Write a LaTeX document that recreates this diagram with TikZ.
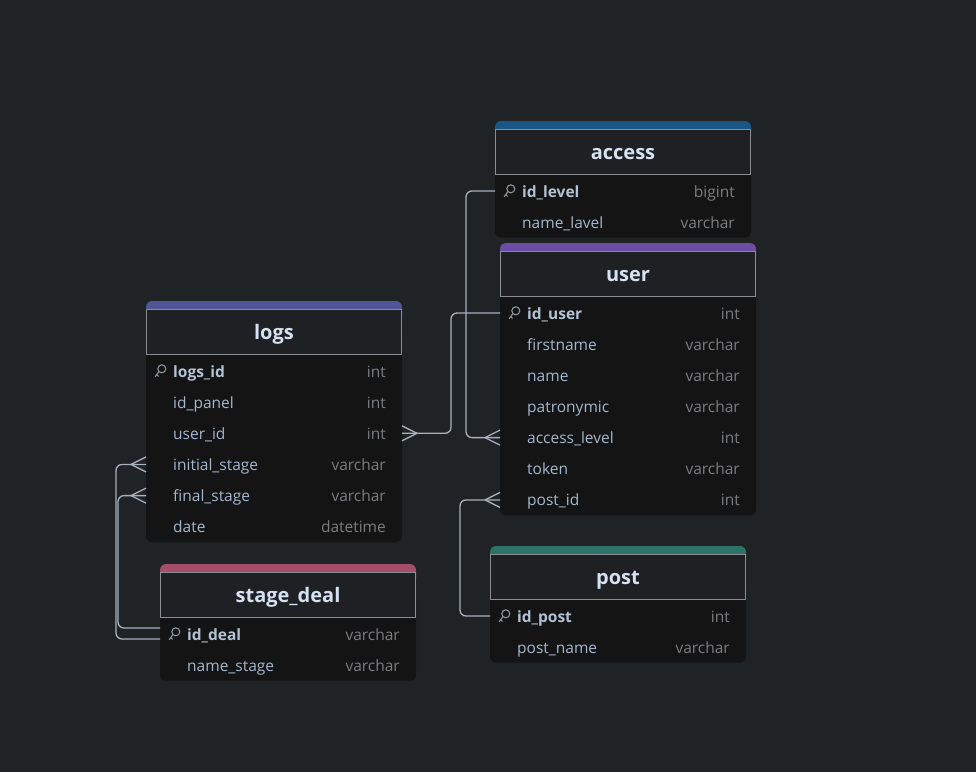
\documentclass[tikz,border=0pt]{standalone}
\usepackage{fontspec}
\setmainfont{Open Sans}
\usetikzlibrary{calc}
\definecolor{bgc}{HTML}{202326}
\definecolor{bodyc}{HTML}{141414}
\definecolor{hdrc}{HTML}{1E2023}
\definecolor{bordc}{HTML}{8A8D91}
\definecolor{titlec}{HTML}{D6E2F2}
\definecolor{fieldc}{HTML}{A3B7CF}
\definecolor{pkc}{HTML}{B3C2D5}
\definecolor{typec}{HTML}{7A7D81}
\definecolor{linec}{HTML}{A7B1BE}
\definecolor{keyc}{HTML}{8E949B}
\definecolor{cAccess}{HTML}{1A5683}
\definecolor{cUser}{HTML}{6D4CA6}
\definecolor{cLogs}{HTML}{4F5596}
\definecolor{cStage}{HTML}{A34D68}
\definecolor{cPost}{HTML}{2E7367}
\tikzset{
  titletext/.style={text=titlec, font=\fontsize{20}{24}\selectfont\bfseries, inner sep=0pt},
  fieldtext/.style={text=fieldc, font=\fontsize{15.5}{18}\selectfont, inner sep=0pt},
  pktext/.style={text=pkc, font=\fontsize{15.5}{18}\selectfont\bfseries, inner sep=0pt},
  typetext/.style={text=typec, font=\fontsize{15.5}{18}\selectfont, inner sep=0pt},
  rowbox/.style={minimum width=256pt, minimum height=31pt, inner sep=0pt, outer sep=0pt},
  conn/.style={draw=linec, line width=1.3pt, rounded corners=6pt},
  crow/.style={draw=linec, line width=1.3pt},
}
\newcommand\ertable[7]{%
  \pgfmathsetmacro\tbot{#3+70+(#4-1)*31.15+15.5}
  \fill[bodyc, rounded corners=6pt] (#2,#3+30) rectangle (#2+256,\tbot);
  \fill[#5, rounded corners=6pt] (#2,#3) rectangle (#2+256,#3+20);
  \filldraw[fill=hdrc, draw=bordc, line width=1pt] (#2+0.5,#3+8) rectangle (#2+255.5,#3+53);
  \node[titletext, anchor=base] (#1) at (#2+128,#3+38) {#6};
  \foreach \nm/\ty/\pk [count=\i] in {#7} {
    \pgfmathsetmacro\ry{#3+70+(\i-1)*31.15}
    \node[rowbox] (#1-\i) at (#2+128,\ry) {};
    \ifnum\pk=1
      \draw[keyc, line width=1.1pt] (#2+15.8,\ry-2.2) circle (4pt);
      \draw[keyc, line width=1.1pt, line cap=round] (#2+12.9,\ry+0.7) -- (#2+9.2,\ry+5.6) (#2+10.7,\ry+3.6) -- (#2+12.4,\ry+5.2);
      \node[pktext, anchor=base west] at (#2+27,\ry+6) {\nm};
    \else
      \node[fieldtext, anchor=base west] at (#2+27,\ry+6) {\nm};
    \fi
    \node[typetext, anchor=base east] at (#2+240,\ry+6) {\ty};
  }
}
% crow's foot: #1 = point on the table edge, #2 = +1 (line arrives from the right) or -1 (from the left)
\newcommand\crowfoot[2]{%
  \draw[crow] ($(#1)+(#2*15,0)$) -- ($(#1)+(0,-7.5)$);
  \draw[crow] ($(#1)+(#2*15,0)$) -- ($(#1)+(0,7.5)$);
}
\begin{document}
\begin{tikzpicture}[x=1pt, y=-1pt]
\fill[bgc] (0,0) rectangle (976,772);
\useasboundingbox (0,0) rectangle (976,772);

\ertable{access}{495}{121}{2}{cAccess}{access}{id\_level/bigint/1, name\_lavel/varchar/0}
\ertable{user}{500}{243}{7}{cUser}{user}{id\_user/int/1, firstname/varchar/0, name/varchar/0, patronymic/varchar/0, access\_level/int/0, token/varchar/0, post\_id/int/0}
\ertable{logs}{146}{301}{6}{cLogs}{logs}{logs\_id/int/1, id\_panel/int/0, user\_id/int/0, initial\_stage/varchar/0, final\_stage/varchar/0, date/datetime/0}
\ertable{stage}{160}{564}{2}{cStage}{stage\_deal}{id\_deal/varchar/1, name\_stage/varchar/0}
\ertable{post}{490}{546}{2}{cPost}{post}{id\_post/int/1, post\_name/varchar/0}

% access.id_level -> user.access_level
\draw[conn] (access-1.west) -- ++(-29,0) |- (user-5.west);
\crowfoot{user-5.west}{-1}
% user.id_user -> logs.user_id
\draw[conn] (user-1.west) -- ++(-49,0) |- (logs-3.east);
\crowfoot{logs-3.east}{1}
% stage_deal.id_deal -> logs.initial_stage / final_stage
\coordinate (sdA) at ($(stage-1.west)+(0,5)$);
\coordinate (sdB) at ($(stage-1.west)+(0,-6)$);
\draw[conn] (logs-4.west) -- ++(-30,0) |- (sdA);
\draw[conn] (logs-5.west) -- ++(-28,0) |- (sdB);
\crowfoot{logs-4.west}{-1}
\crowfoot{logs-5.west}{-1}
% post.id_post -> user.post_id
\draw[conn] (post-1.west) -- ++(-30,0) |- (user-7.west);
\crowfoot{user-7.west}{-1}
\end{tikzpicture}
\end{document}
